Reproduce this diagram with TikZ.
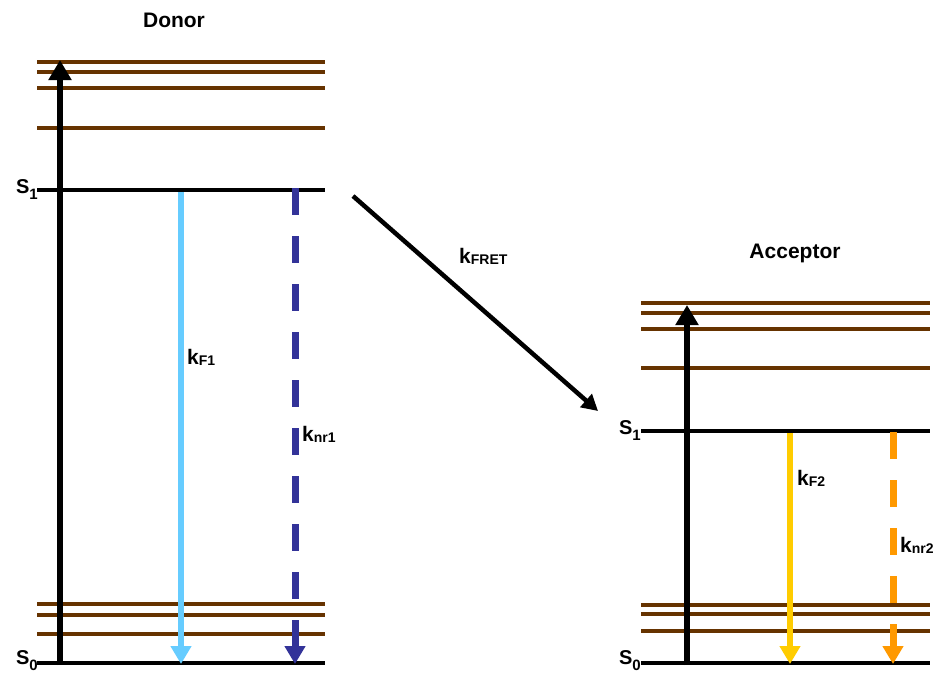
\documentclass[tikz,border=0pt]{standalone}
\usepackage{fontspec}
\setmainfont{Liberation Sans}
\usetikzlibrary{arrows.meta}
\definecolor{vib}{HTML}{663300}
\definecolor{fluoD}{HTML}{66CCFF}
\definecolor{nrD}{HTML}{333399}
\definecolor{fluoA}{HTML}{FFCC00}
\definecolor{nrA}{HTML}{FF9900}
\newcommand{\rate}[1]{\fontsize{21}{21}\selectfont k\raisebox{-1pt}{\fontsize{14}{14}\selectfont #1}}
\newcommand{\lvl}[1]{\fontsize{20}{20}\selectfont S\raisebox{-6pt}{\fontsize{15}{15}\selectfont #1}}
\tikzset{
  vibline/.style={draw=vib, line width=3.2pt},
  elevel/.style={draw=black, line width=4.5pt},
  excite/.style={draw=black, line width=6pt, -{Triangle[width=22pt,length=20pt]}},
  decay/.style={line width=5.5pt, -{Triangle[width=20pt,length=18pt]}},
  nonrad/.style={line width=7pt, dash pattern=on 27pt off 21pt, -{Triangle[width=20pt,length=18pt]}},
  fret/.style={draw=black, line width=4.5pt, -{Triangle[width=17pt,length=16pt]}},
  title/.style={font=\bfseries\fontsize{21}{21}\selectfont, inner sep=0pt},
  ratelab/.style={font=\bfseries, inner sep=0pt, anchor=west},
  lvllab/.style={font=\bfseries, inner sep=0pt, anchor=base east},
}
\begin{document}
\begin{tikzpicture}[x=1pt, y=-1pt]
\useasboundingbox (0,0) rectangle (938,673);

% ---------- Donor ----------
\node[title] (dtitle) at (174,20) {Donor};
\foreach \yy in {62,72,88,128,604,615,634}
  \draw[vibline] (37,\yy) -- (325,\yy);
\coordinate (dS1l) at (37,190);  \coordinate (dS1r) at (325,190);
\coordinate (dS0l) at (37,663);  \coordinate (dS0r) at (325,663);
\draw[elevel] (dS1l) -- (dS1r);
\draw[elevel] (dS0l) -- (dS0r);
\node[lvllab] (dS1lab) at (38,193) {\lvl{1}};
\node[lvllab] (dS0lab) at (38,664) {\lvl{0}};

\coordinate (dexb) at (60,665); \coordinate (dext) at (60,60);
\draw[excite] (dexb) -- (dext);

\coordinate (dfa) at (181,192); \coordinate (dfb) at (181,664);
\draw[decay, draw=fluoD] (dfa) -- (dfb);
\coordinate (dna) at (295,188); \coordinate (dnb) at (295,664);
\draw[nonrad, draw=nrD] (dna) -- (dnb);
\node[ratelab] (kf1) at (187,357) {\rate{F1}};
\node[ratelab] (knr1) at (302,434) {\rate{nr1}};

% ---------- FRET transfer ----------
\coordinate (fa) at (353,196); \coordinate (fb) at (598,411);
\draw[fret] (fa) -- (fb);
\node[ratelab] (kfret) at (459,256) {\rate{FRET}};

% ---------- Acceptor ----------
\node[title] (atitle) at (795,253) {Acceptor};
\foreach \yy in {303,313,329,368,605,614,631}
  \draw[vibline] (641,\yy) -- (930,\yy);
\coordinate (aS1l) at (641,431);  \coordinate (aS1r) at (930,431);
\coordinate (aS0l) at (641,663);  \coordinate (aS0r) at (930,663);
\draw[elevel] (aS1l) -- (aS1r);
\draw[elevel] (aS0l) -- (aS0r);
\node[lvllab] (aS1lab) at (641,434) {\lvl{1}};
\node[lvllab] (aS0lab) at (641,664) {\lvl{0}};

\coordinate (aexb) at (687,665); \coordinate (aext) at (687,305);
\draw[excite] (aexb) -- (aext);

\coordinate (afa) at (790,433); \coordinate (afb) at (790,664);
\draw[decay, draw=fluoA] (afa) -- (afb);
\coordinate (ana) at (893,432); \coordinate (anb) at (893,664);
\draw[nonrad, draw=nrA] (ana) -- (anb);
\node[ratelab] (kf2) at (797,478) {\rate{F2}};
\node[ratelab] (knr2) at (900,545) {\rate{nr2}};
\end{tikzpicture}
\end{document}
